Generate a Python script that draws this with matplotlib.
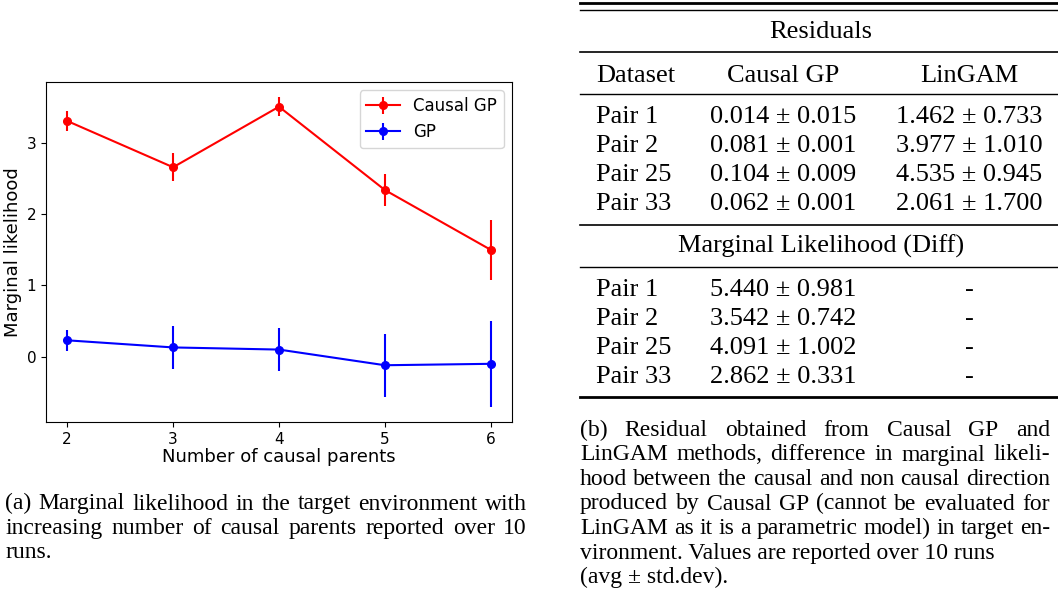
import matplotlib
matplotlib.use("Agg")
import matplotlib.pyplot as plt

W, H = 1058, 596

# chart data
n_parents = [2, 3, 4, 5, 6]
causal_gp = [3.31, 2.66, 3.51, 2.34, 1.50]
causal_gp_err = [0.14, 0.20, 0.13, 0.23, 0.42]
gp = [0.23, 0.13, 0.10, -0.12, -0.10]
gp_err = [0.15, 0.30, 0.30, 0.44, 0.60]

# table data
datasets = ["Pair 1", "Pair 2", "Pair 25", "Pair 33"]
resid_causal_gp = ["0.014 ± 0.015", "0.081 ± 0.001", "0.104 ± 0.009", "0.062 ± 0.001"]
resid_lingam = ["1.462 ± 0.733", "3.977 ± 1.010", "4.535 ± 0.945", "2.061 ± 1.700"]
ml_causal_gp = ["5.440 ± 0.981", "3.542 ± 0.742", "4.091 ± 1.002", "2.862 ± 0.331"]
ml_lingam = ["-", "-", "-", "-"]

caption_a = [
    "(a) Marginal likelihood in the target environment with",
    "increasing number of causal parents reported over 10",
    "runs.",
]
caption_b = [
    "(b) Residual obtained from Causal GP and",
    "LinGAM methods, difference in marginal likeli-",
    "hood between the causal and non causal direction",
    "produced by Causal GP (cannot be evaluated for",
    "LinGAM as it is a parametric model) in target en-",
    "vironment. Values are reported over 10 runs",
    "(avg ± std.dev).",
]


def fx(x):
    return x / W


def fy(y):
    return 1 - y / H


fig = plt.figure(figsize=(W / 100, H / 100), dpi=100)

# --- left: line chart ---
ax = fig.add_axes([fx(46), fy(422), fx(512) - fx(46), fy(82) - fy(422)])
ax.errorbar(n_parents, causal_gp, yerr=causal_gp_err, fmt="-o", color="red",
            ms=5.5, lw=1.5, elinewidth=1.5, label="Causal GP")
ax.errorbar(n_parents, gp, yerr=gp_err, fmt="-o", color="blue",
            ms=5.5, lw=1.5, elinewidth=1.5, label="GP")
ax.set_xticks(n_parents)
ax.set_yticks([0, 1, 2, 3])
ax.tick_params(labelsize=11)
ax.set_xlabel("Number of causal parents", fontsize=13, labelpad=1)
ax.set_ylabel("Marginal likelihood", fontsize=13, labelpad=3)
ax.legend(loc="upper right", fontsize=12)

# --- right: table ---
serif = "Liberation Serif"
tsize = 19
x_l, x_r = 580, 1058
col_ds, col_gp, col_lg = 596, 783, 969
x_mid = 821


def rule(y, lw):
    fig.add_artist(plt.Line2D([fx(x_l), fx(x_r)], [fy(y), fy(y)], color="black", lw=lw))


rule(2.5, 2.0)
rule(9.5, 1.0)
rule(52, 1.2)
rule(94, 1.0)
rule(225, 1.2)
rule(267, 1.0)
rule(396.5, 2.0)


def cell(x, y, s, ha="center"):
    fig.text(fx(x), fy(y), s, ha=ha, va="baseline", family=serif, fontsize=tsize)


cell(x_mid, 38.5, "Residuals")
cell(col_ds, 81.5, "Dataset", ha="left")
cell(col_gp, 81.5, "Causal GP")
cell(col_lg, 81.5, "LinGAM")
top_rows = [122.7, 151.7, 181, 210]
for i, yy in enumerate(top_rows):
    cell(col_ds, yy, datasets[i], ha="left")
    cell(col_gp, yy, resid_causal_gp[i])
    cell(col_lg, yy, resid_lingam[i])
cell(x_mid, 252.3, "Marginal Likelihood (Diff)")
bot_rows = [296, 325, 354, 383.3]
for i, yy in enumerate(bot_rows):
    cell(col_ds, yy, datasets[i], ha="left")
    cell(col_gp, yy, ml_causal_gp[i])
    cell(col_lg, yy, ml_lingam[i])

# --- captions (justified) ---
renderer = fig.canvas.get_renderer()
csize = 17


def put_line(text, x0, x1, y, justify):
    if not justify:
        fig.text(fx(x0), fy(y), text, ha="left", va="baseline", family=serif, fontsize=csize)
        return
    words = text.split(" ")
    widths = []
    for w in words:
        t = fig.text(0, 0, w, family=serif, fontsize=csize)
        widths.append(t.get_window_extent(renderer).width)
        t.remove()
    gap = (x1 - x0 - sum(widths)) / (len(words) - 1)
    x = x0
    for w, wd in zip(words, widths):
        fig.text(fx(x), fy(y), w, ha="left", va="baseline", family=serif, fontsize=csize)
        x += wd + gap


for i, line in enumerate(caption_a):
    put_line(line, 5, 527, 509.5 + i * 24.5, i < len(caption_a) - 1)

for i, line in enumerate(caption_b):
    put_line(line, 580, 1050, 436 + i * 24.5, i < len(caption_b) - 2)

fig.savefig("out.png", dpi=100)
